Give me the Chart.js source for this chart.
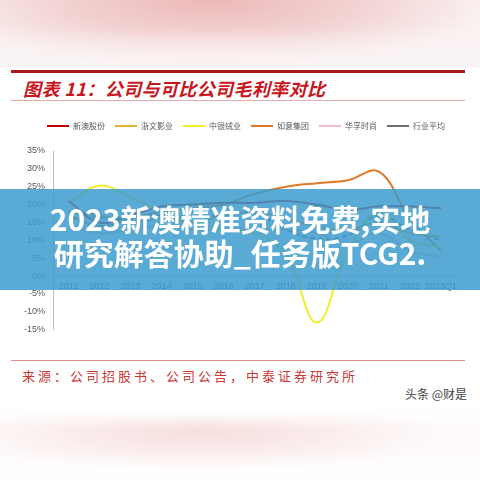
<!DOCTYPE html>
<html>
<head>
<meta charset="utf-8">
<script src="https://cdn.jsdelivr.net/npm/chart.js@4.4.1/dist/chart.umd.min.js"></script>
<style>
  html, body { margin: 0; padding: 0; }
  body {
    width: 480px; height: 480px; position: relative; overflow: hidden; background: #fff;
    font-family: "Noto Sans CJK SC", sans-serif;
  }
  .blur-top {
    position: absolute; left: 0; top: 0; width: 480px; height: 68px;
    background:
      linear-gradient(to bottom, rgba(250,243,243,0) 40%, #faf4f4 100%),
      radial-gradient(ellipse 280px 70px at 210px 0px, #edb8b8 0%, #f3d3d3 55%, #faf1f1 100%);
  }
  .blur-bottom {
    position: absolute; left: 0; top: 410px; width: 480px; height: 70px;
    background:
      linear-gradient(to bottom, #fff 0%, rgba(255,255,255,0) 25%, rgba(255,255,255,0) 60%, #fff 100%),
      radial-gradient(ellipse 240px 40px at 200px 22px, #f7dede 0%, #fbeeee 60%, #fefafa 100%);
  }
  .rule-top { position: absolute; left: 11px; top: 70px; width: 454px; height: 3px; background: #a9161b; }
  .rule-thin { position: absolute; left: 11px; top: 100px; width: 454px; height: 1px; background: #e2aaaa; }
  .rule-foot { position: absolute; left: 11px; top: 360px; width: 454px; height: 1px; background: #e58b8b; }
  .title {
    position: absolute; left: 23px; top: 76px; font-size: 18px; line-height: 24px; letter-spacing: 0.4px;
    font-style: italic; font-weight: bold; color: #c8161d; white-space: nowrap;
  }
  .source {
    position: absolute; left: 22px; top: 366px; font-size: 13px; line-height: 20px;
    color: #c83a36; letter-spacing: 3px; white-space: nowrap;
  }
  .mark {
    position: absolute; left: 405px; top: 385px; font-size: 12px; line-height: 18px;
    color: #444; white-space: nowrap;
  }
  #chart { position: absolute; left: 0; top: 112px; }
  .banner {
    position: absolute; left: 0; top: 189px; width: 480px; height: 101px;
    background: rgba(60,155,205,0.85);
  }
  .banner div {
    position: absolute; left: 0; width: 480px; text-align: center; color: #fff;
    font-weight: bold; font-size: 30px; line-height: 34px; white-space: nowrap;
  }
</style>
</head>
<body>
<div class="blur-top"></div>
<div class="blur-bottom"></div>
<div class="rule-top"></div>
<div class="title">图表 11：公司与可比公司毛利率对比</div>
<div class="rule-thin"></div>
<canvas id="chart" width="480" height="231"></canvas>
<div class="banner">
  <div style="top:12px">2023新澳精准资料免费,实地</div>
  <div style="top:46px">研究解答协助_任务版TCG2.</div>
</div>
<div class="rule-foot"></div>
<div class="source">来源：公司招股书、公司公告，中泰证券研究所</div>
<div class="mark">头条 @财是</div>

<script>
const years = ['2011', '2012', '2013', '2014', '2015', '2016', '2017', '2018', '2019', '2020', '2021', '2022', '2023Q1'];
const seriesNames = ['新澳股份', '浙文影业', '中银绒业', '如意集团', '华孚时尚', '行业平均'];

// gross margin, %
const xinao = [21, 15, 17, 19.5, 20, 20.5, 20.5, 21, 20, 18.5, 19.5, 19.5, 19];
const zhewen = [18, 17, 15, 16, 15, 17, 18, 16, 14, 13, 15, 12, 11];
const zhongyin = [20.5, 25.3, 22, 18, 15, 13, 12, 6, -13, 7, 18, 10, 8];
const ruyi = [17, 14, 16, 18, 19, 20, 23, 25, 26, 26.8, 29.2, 16, 7];
const huafu = [14, 12, 13, 14, 13, 13, 13, 13, 12, 9, 12, 7, 5.5];
const industryAvg = [18, 16.5, 16.5, 17, 16.5, 17, 17.5, 13, 10.5, 11.5, 17, 13, 10];

const seriesValues = [xinao, zhewen, zhongyin, ruyi, huafu, industryAvg];
const seriesColors = ['#c00000', '#e6b12a', '#f2ee2e', '#e0782a', '#f0bcc6', '#6e6e6e'];

Chart.defaults.font.family = "'Liberation Sans', Arial, sans-serif";

// legend: extra room below the row, and nudge it right to sit over the plot
const legendTweak = {
  id: 'legendTweak',
  beforeInit(chart) {
    const fit = chart.legend.fit;
    chart.legend.fit = function () {
      fit.call(this);
      this.height += 11;
    };
  },
  afterLayout(chart) {
    chart.legend.left += 17.75;
    chart.legend.right += 17.75;
  }
};

const datasets = seriesNames.map((name, i) => ({
  label: name,
  data: seriesValues[i],
  borderColor: seriesColors[i],
  backgroundColor: seriesColors[i],
  borderWidth: 2,
  borderDash: i === 5 ? [5, 3] : [],
  pointRadius: 0,
  tension: 0.4,
  fill: false
}));

new Chart(document.getElementById('chart').getContext('2d'), {
  type: 'line',
  data: { labels: years, datasets },
  options: {
    responsive: false,
    animation: false,
    layout: { padding: { top: 0, bottom: 10, left: 0, right: 23.5 } },
    plugins: {
      legend: {
        position: 'top',
        labels: {
          usePointStyle: true,
          pointStyle: 'line',
          pointStyleWidth: 22,
          padding: 10,
          color: '#595959',
          font: { size: 8, family: "'Noto Sans CJK SC', sans-serif" }
        }
      },
      tooltip: { enabled: false }
    },
    scales: {
      x: {
        position: { y: 0 },
        offset: true,
        grid: { display: false, drawTicks: false },
        border: { display: true, color: '#bfbfbf' },
        ticks: { color: '#595959', font: { size: 9 }, padding: 5, maxRotation: 0, autoSkip: false }
      },
      y: {
        min: -15,
        max: 35,
        grid: { display: false, drawTicks: false },
        border: { display: true, color: '#bfbfbf' },
        ticks: { stepSize: 5, color: '#595959', font: { size: 9 }, padding: 8, callback: (v) => v + '%' },
        afterFit(scale) { scale.width = 53; }
      }
    }
  },
  plugins: [legendTweak]
});
</script>
</body>
</html>
